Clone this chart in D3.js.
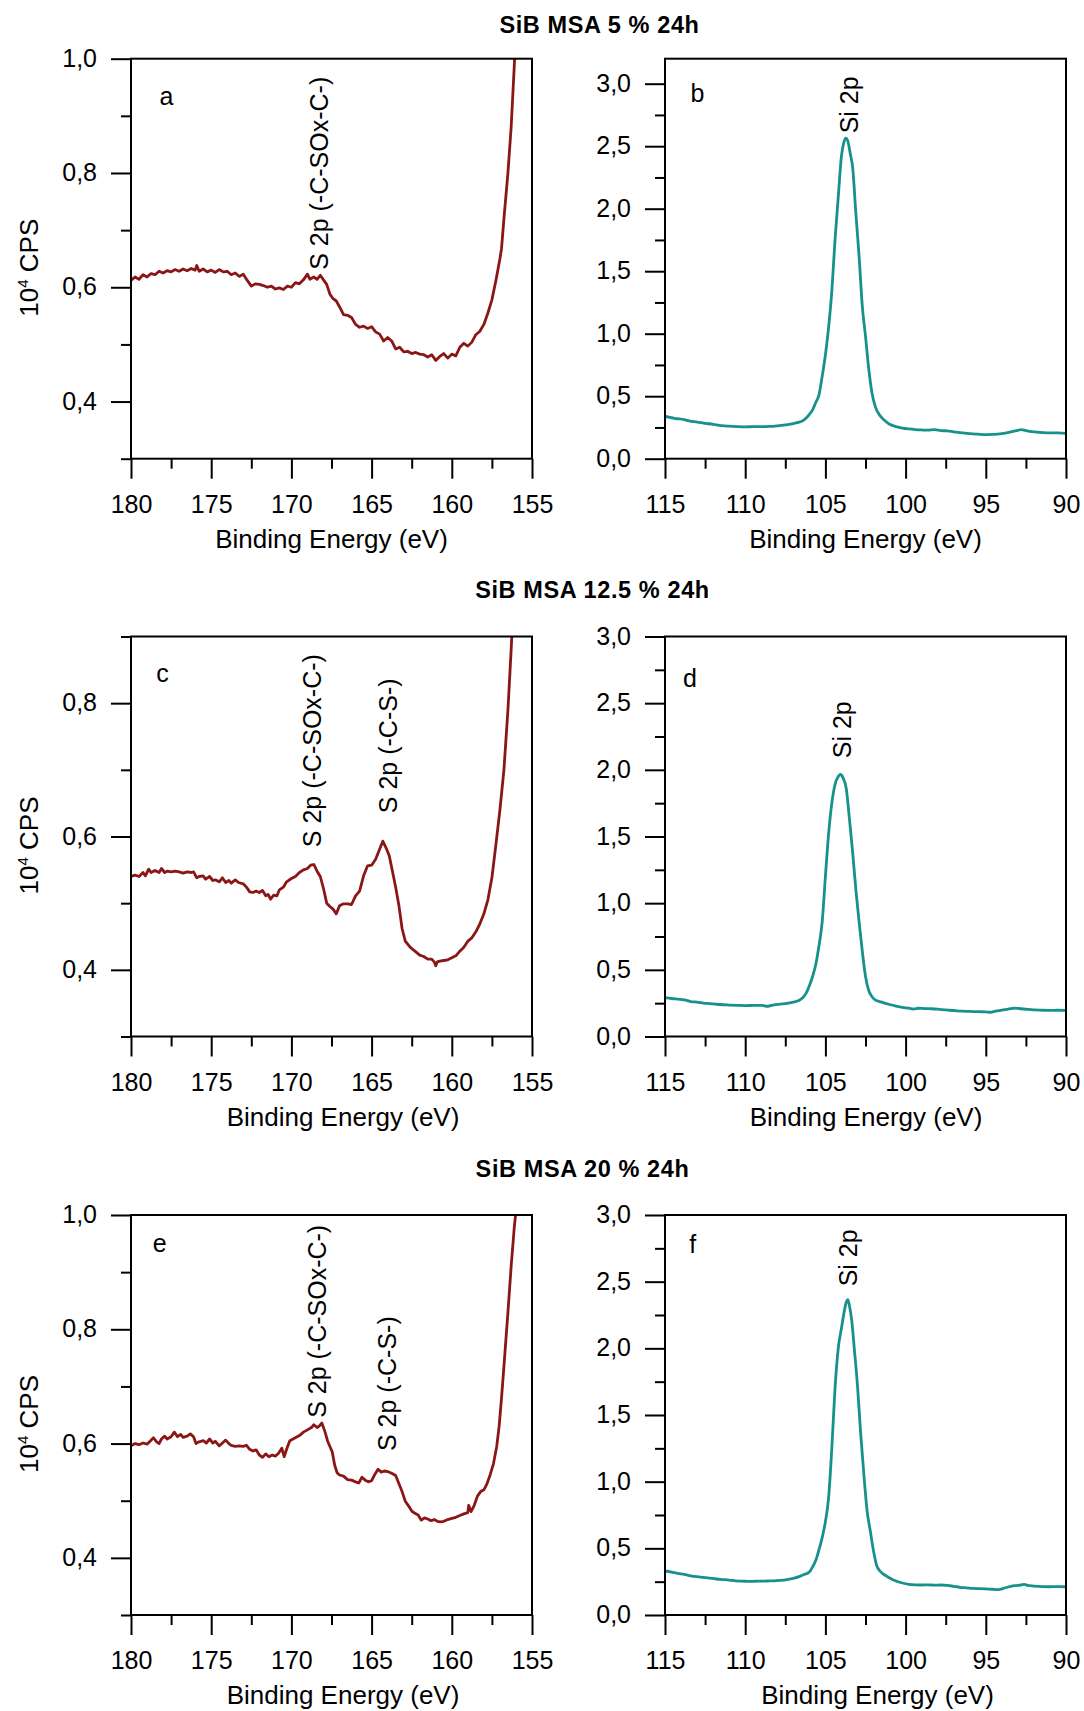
<!DOCTYPE html>
<html>
<head>
<meta charset="utf-8">
<script src="https://cdn.jsdelivr.net/npm/d3@7"></script>
<style>
  body { margin: 0; background: #fff; }
  svg { display: block; font-family: "Liberation Sans", Arial, Helvetica, sans-serif; }
</style>
</head>
<body>
<svg id="fig" width="1084" height="1711"></svg>
<script>
// ---------- XPS spectra: [binding energy (eV), intensity (10^4 CPS)] ----------

// S 2p region, MSA 5 %
const sulfur5 = [
  [180.0,0.612],[179.75,0.618],[179.5,0.614],[179.25,0.622],[179.0,0.618],[178.75,0.624],[178.5,0.622],
  [178.25,0.628],[178.0,0.625],[177.75,0.629],[177.5,0.627],[177.25,0.631],[177.0,0.628],[176.75,0.632],
  [176.5,0.629],[176.25,0.633],[176.0,0.630],[175.9,0.638],[175.75,0.628],[175.5,0.632],[175.25,0.627],
  [175.0,0.630],[174.75,0.626],[174.5,0.631],[174.25,0.627],[174.0,0.628],[173.75,0.622],[173.5,0.625],
  [173.25,0.619],[173.0,0.623],[172.75,0.612],[172.5,0.602],[172.25,0.606],[172.0,0.605],[171.75,0.603],
  [171.5,0.600],[171.25,0.602],[171.0,0.597],[170.75,0.599],[170.5,0.596],[170.25,0.602],[170.0,0.600],
  [169.75,0.608],[169.5,0.606],[169.25,0.613],[169.0,0.623],[168.85,0.614],[168.6,0.618],[168.4,0.614],
  [168.2,0.621],[168.0,0.613],[167.8,0.605],[167.6,0.588],[167.4,0.580],[167.2,0.576],[167.0,0.566],
  [166.75,0.552],[166.5,0.551],[166.25,0.547],[166.0,0.535],[165.75,0.530],[165.5,0.532],[165.25,0.528],
  [165.0,0.531],[164.75,0.522],[164.5,0.518],[164.25,0.506],[164.0,0.512],[163.75,0.506],[163.5,0.492],
  [163.25,0.495],[163.0,0.487],[162.75,0.488],[162.5,0.484],[162.25,0.486],[162.0,0.483],[161.75,0.482],
  [161.5,0.478],[161.25,0.482],[161.0,0.472],[160.75,0.479],[160.5,0.484],[160.25,0.476],[160.0,0.483],
  [159.75,0.480],[159.5,0.495],[159.25,0.502],[159.0,0.497],[158.75,0.504],[158.5,0.517],[158.25,0.523],
  [158.0,0.535],[157.75,0.555],[157.5,0.578],[157.25,0.612],[157.0,0.650],[156.9,0.668],[156.75,0.720],
  [156.5,0.800],[156.3,0.880],[156.1,0.990],[156.0,1.050]
];

// Si 2p region, MSA 5 %
const silicon5 = [
  [115.0,0.340],[114.7,0.330],[114.4,0.322],[114.1,0.318],[113.8,0.312],[113.5,0.303],[113.2,0.296],
  [112.9,0.290],[112.5,0.283],[112.0,0.275],[111.5,0.265],[111.0,0.260],[110.5,0.257],[110.0,0.255],
  [109.5,0.256],[109.0,0.256],[108.5,0.258],[108.0,0.263],[107.5,0.270],[107.0,0.280],[106.7,0.290],
  [106.4,0.305],[106.2,0.325],[106.0,0.355],[105.8,0.390],[105.6,0.450],[105.4,0.510],[105.2,0.660],
  [105.0,0.830],[104.8,1.050],[104.6,1.340],[104.4,1.750],[104.2,2.090],[104.0,2.420],[103.85,2.530],
  [103.72,2.565],[103.6,2.540],[103.45,2.440],[103.3,2.330],[103.1,1.960],[102.9,1.620],[102.7,1.220],
  [102.5,0.980],[102.3,0.720],[102.1,0.530],[101.9,0.420],[101.6,0.345],[101.3,0.305],[101.0,0.275],
  [100.6,0.257],[100.2,0.245],[99.8,0.238],[99.4,0.233],[99.0,0.230],[98.6,0.228],[98.2,0.232],
  [97.8,0.225],[97.4,0.222],[97.0,0.215],[96.5,0.207],[96.0,0.200],[95.5,0.196],[95.0,0.193],
  [94.5,0.194],[94.0,0.200],[93.5,0.212],[93.0,0.227],[92.8,0.233],[92.5,0.224],[92.0,0.214],
  [91.5,0.209],[91.0,0.206],[90.5,0.207],[90.0,0.203]
];

// S 2p region, MSA 12.5 %
const sulfur125 = [
  [180.0,0.540],[179.75,0.542],[179.5,0.540],[179.25,0.546],[179.1,0.541],[178.9,0.551],[178.75,0.546],
  [178.5,0.549],[178.25,0.546],[178.1,0.552],[177.9,0.546],[177.75,0.548],[177.5,0.547],[177.25,0.548],
  [177.0,0.547],[176.75,0.545],[176.5,0.547],[176.25,0.546],[176.1,0.547],[175.9,0.538],[175.75,0.540],
  [175.5,0.541],[175.35,0.536],[175.1,0.540],[174.9,0.534],[174.75,0.535],[174.5,0.532],[174.3,0.538],
  [174.1,0.531],[173.9,0.534],[173.75,0.530],[173.5,0.535],[173.3,0.531],[173.0,0.529],[172.8,0.524],
  [172.6,0.517],[172.4,0.516],[172.2,0.518],[172.0,0.516],[171.8,0.519],[171.6,0.511],[171.45,0.513],
  [171.3,0.506],[171.1,0.512],[170.9,0.511],[170.75,0.520],[170.5,0.524],[170.3,0.532],[170.0,0.537],
  [169.75,0.540],[169.5,0.546],[169.25,0.550],[169.0,0.552],[168.8,0.557],[168.6,0.558],[168.4,0.548],
  [168.2,0.540],[168.0,0.522],[167.8,0.500],[167.6,0.495],[167.4,0.491],[167.2,0.484],[167.0,0.496],
  [166.75,0.499],[166.5,0.499],[166.25,0.498],[166.0,0.511],[165.75,0.518],[165.5,0.541],[165.25,0.556],
  [165.0,0.557],[164.75,0.566],[164.5,0.581],[164.3,0.593],[164.1,0.583],[163.9,0.571],[163.7,0.548],
  [163.5,0.524],[163.3,0.497],[163.1,0.462],[162.9,0.443],[162.6,0.434],[162.3,0.428],[162.0,0.422],
  [161.75,0.420],[161.5,0.416],[161.25,0.416],[161.1,0.412],[161.0,0.406],[160.9,0.412],[160.75,0.413],
  [160.5,0.414],[160.25,0.415],[160.0,0.418],[159.75,0.421],[159.5,0.428],[159.25,0.434],[159.0,0.443],
  [158.75,0.448],[158.5,0.457],[158.25,0.469],[158.0,0.484],[157.75,0.505],[157.5,0.538],[157.25,0.588],
  [157.0,0.640],[156.75,0.700],[156.5,0.790],[156.3,0.880],[156.2,0.930]
];

// Si 2p region, MSA 12.5 %
const silicon125 = [
  [115.0,0.291],[114.6,0.285],[114.2,0.280],[113.8,0.275],[113.4,0.262],[113.0,0.258],[112.6,0.250],
  [112.2,0.247],[111.8,0.242],[111.4,0.238],[111.0,0.236],[110.5,0.234],[110.0,0.232],[109.5,0.233],
  [109.0,0.234],[108.6,0.227],[108.2,0.238],[107.8,0.243],[107.4,0.248],[107.0,0.258],[106.7,0.268],
  [106.4,0.292],[106.2,0.325],[106.0,0.380],[105.8,0.450],[105.6,0.540],[105.4,0.680],[105.2,0.860],
  [105.0,1.200],[104.8,1.520],[104.6,1.750],[104.4,1.890],[104.2,1.950],[104.07,1.965],[103.9,1.940],
  [103.7,1.860],[103.5,1.630],[103.3,1.380],[103.1,1.100],[102.9,0.860],[102.7,0.640],[102.5,0.450],
  [102.3,0.345],[102.1,0.300],[101.9,0.275],[101.5,0.258],[101.0,0.240],[100.6,0.228],[100.2,0.218],
  [99.8,0.212],[99.5,0.206],[99.2,0.212],[98.8,0.209],[98.4,0.208],[98.0,0.205],[97.5,0.199],
  [97.0,0.195],[96.5,0.190],[96.0,0.188],[95.5,0.186],[95.0,0.185],[94.7,0.182],[94.4,0.190],
  [94.0,0.198],[93.6,0.205],[93.2,0.213],[92.8,0.208],[92.4,0.203],[92.0,0.199],[91.5,0.197],
  [91.0,0.196],[90.5,0.197],[90.0,0.196]
];

// S 2p region, MSA 20 %
const sulfur20 = [
  [180.0,0.596],[179.75,0.600],[179.5,0.598],[179.25,0.601],[179.0,0.599],[178.75,0.606],[178.6,0.610],
  [178.4,0.603],[178.25,0.600],[178.1,0.608],[177.9,0.613],[177.75,0.608],[177.5,0.612],[177.3,0.620],
  [177.1,0.612],[176.9,0.616],[176.75,0.611],[176.5,0.613],[176.3,0.617],[176.1,0.612],[175.95,0.600],
  [175.75,0.603],[175.5,0.605],[175.3,0.601],[175.1,0.608],[174.9,0.601],[174.75,0.604],[174.5,0.596],
  [174.3,0.601],[174.1,0.606],[173.9,0.600],[173.75,0.597],[173.5,0.595],[173.25,0.596],[173.0,0.595],
  [172.8,0.597],[172.6,0.590],[172.4,0.587],[172.2,0.589],[172.0,0.580],[171.8,0.576],[171.6,0.582],
  [171.4,0.577],[171.2,0.580],[171.0,0.578],[170.8,0.583],[170.6,0.592],[170.45,0.577],[170.3,0.590],
  [170.1,0.605],[169.9,0.608],[169.7,0.611],[169.5,0.614],[169.25,0.620],[169.0,0.624],[168.75,0.628],
  [168.6,0.633],[168.4,0.628],[168.25,0.631],[168.1,0.636],[167.9,0.620],[167.75,0.605],[167.6,0.595],
  [167.45,0.585],[167.3,0.562],[167.15,0.549],[167.0,0.545],[166.75,0.543],[166.5,0.537],[166.25,0.536],
  [166.0,0.533],[165.8,0.531],[165.6,0.541],[165.4,0.536],[165.2,0.533],[165.0,0.535],[164.8,0.546],
  [164.6,0.555],[164.4,0.550],[164.2,0.552],[164.0,0.551],[163.75,0.548],[163.5,0.544],[163.3,0.530],
  [163.1,0.516],[162.9,0.499],[162.7,0.491],[162.5,0.482],[162.3,0.478],[162.1,0.475],[161.9,0.466],
  [161.7,0.470],[161.5,0.468],[161.3,0.465],[161.1,0.467],[160.9,0.464],[160.7,0.463],[160.5,0.464],
  [160.25,0.467],[160.0,0.469],[159.75,0.471],[159.5,0.474],[159.25,0.477],[159.0,0.479],[158.95,0.492],
  [158.8,0.481],[158.6,0.492],[158.4,0.508],[158.2,0.516],[158.0,0.519],[157.8,0.530],[157.6,0.546],
  [157.4,0.565],[157.2,0.595],[157.05,0.630],[156.9,0.680],[156.75,0.735],[156.5,0.830],[156.3,0.910],
  [156.1,0.980],[155.95,1.020]
];

// Si 2p region, MSA 20 %
const silicon20 = [
  [115.0,0.330],[114.6,0.322],[114.2,0.312],[113.8,0.305],[113.4,0.294],[113.0,0.287],[112.6,0.282],
  [112.2,0.276],[111.8,0.270],[111.4,0.266],[111.0,0.262],[110.6,0.256],[110.2,0.254],[109.8,0.252],
  [109.4,0.253],[109.0,0.254],[108.6,0.255],[108.2,0.256],[107.8,0.260],[107.4,0.266],[107.0,0.275],
  [106.6,0.290],[106.3,0.305],[106.0,0.322],[105.8,0.360],[105.6,0.410],[105.4,0.490],[105.2,0.580],
  [105.0,0.700],[104.8,0.880],[104.6,1.250],[104.4,1.700],[104.2,2.000],[104.0,2.150],[103.85,2.260],
  [103.7,2.345],[103.6,2.365],[103.5,2.320],[103.35,2.200],[103.2,2.000],[103.0,1.720],[102.8,1.360],
  [102.6,1.050],[102.4,0.780],[102.2,0.630],[102.0,0.480],[101.8,0.370],[101.6,0.330],[101.3,0.300],
  [101.0,0.278],[100.6,0.255],[100.2,0.240],[99.8,0.230],[99.4,0.226],[99.0,0.225],[98.6,0.226],
  [98.2,0.224],[97.8,0.225],[97.4,0.222],[97.0,0.215],[96.6,0.208],[96.2,0.204],[95.8,0.199],
  [95.4,0.198],[95.0,0.196],[94.6,0.193],[94.2,0.191],[93.9,0.200],[93.6,0.210],[93.2,0.220],
  [92.8,0.225],[92.6,0.230],[92.4,0.222],[92.0,0.217],[91.5,0.213],[91.0,0.212],[90.5,0.213],[90.0,0.212]
];

// ---------- axis ticks ----------
const sEnergyTicks  = [180, 175, 170, 165, 160, 155];
const sEnergyMinor  = [177.5, 172.5, 167.5, 162.5, 157.5];
const siEnergyTicks = [115, 110, 105, 100, 95, 90];
const siEnergyMinor = [112.5, 107.5, 102.5, 97.5, 92.5];
const sCpsTicksWide   = [0.4, 0.6, 0.8, 1.0];
const sCpsTicksNarrow = [0.4, 0.6, 0.8];
const sCpsMinor       = [0.3, 0.5, 0.7, 0.9];
const siCpsTicks = [0, 0.5, 1.0, 1.5, 2.0, 2.5, 3.0];
const siCpsMinor = [0.25, 0.75, 1.25, 1.75, 2.25, 2.75];

// ---------- text ----------
const rowTitles = ["SiB MSA 5 % 24h", "SiB MSA 12.5 % 24h", "SiB MSA 20 % 24h"];
const panelLetters = ["a", "b", "c", "d", "e", "f"];
const xTitle = "Binding Energy (eV)";
// peak labels: [text, energy at label baseline, intensity at label start]
const notesA = [["S 2p (-C-SOx-C-)", 167.71, 0.6305]];
const notesB = [["Si 2p", 102.94, 2.603]];
const notesC = [["S 2p (-C-SOx-C-)", 168.18, 0.584], ["S 2p (-C-S-)", 163.39, 0.635]];
const notesD = [["Si 2p", 103.4, 2.087]];
const notesE = [["S 2p (-C-SOx-C-)", 167.82, 0.645], ["S 2p (-C-S-)", 163.47, 0.587]];
const notesF = [["Si 2p", 103.0, 2.465]];

// ---------- layout / style ----------
const sulfurColor = "#8b1616";
const siliconColor = "#16918b";
const rowTop = [58.7, 636.5, 1215];
const colLeft = [131, 665];
const plotW = 401, plotH = 400;
const FONT = 25;
const TITLE_FONT = 26;

const panels = [
  { row: 0, col: 0, data: sulfur5,    xd: [180, 155], yd: [0.3, 1.0], xt: sEnergyTicks,  xm: sEnergyMinor,  yt: sCpsTicksWide,   ym: sCpsMinor,  color: sulfurColor,  notes: notesA, letterPos: [35.4, 46.3], xTitleX: 200.5, yTitle: true },
  { row: 0, col: 1, data: silicon5,   xd: [115, 90],  yd: [0, 3.2],   xt: siEnergyTicks, xm: siEnergyMinor, yt: siCpsTicks, ym: siCpsMinor, color: siliconColor, notes: notesB, letterPos: [32.5, 43], xTitleX: 200.5, yTitle: false },
  { row: 1, col: 0, data: sulfur125,  xd: [180, 155], yd: [0.3, 0.9], xt: sEnergyTicks,  xm: sEnergyMinor,  yt: sCpsTicksNarrow, ym: sCpsMinor,  color: sulfurColor,  notes: notesC, letterPos: [31.4, 45.8], xTitleX: 212, yTitle: true },
  { row: 1, col: 1, data: silicon125, xd: [115, 90],  yd: [0, 3.0],   xt: siEnergyTicks, xm: siEnergyMinor, yt: siCpsTicks, ym: siCpsMinor, color: siliconColor, notes: notesD, letterPos: [25, 50], xTitleX: 201, yTitle: false },
  { row: 2, col: 0, data: sulfur20,   xd: [180, 155], yd: [0.3, 1.0], xt: sEnergyTicks,  xm: sEnergyMinor,  yt: sCpsTicksWide,   ym: sCpsMinor,  color: sulfurColor,  notes: notesE, letterPos: [28.6, 36.5], xTitleX: 212, yTitle: true },
  { row: 2, col: 1, data: silicon20,  xd: [115, 90],  yd: [0, 3.0],   xt: siEnergyTicks, xm: siEnergyMinor, yt: siCpsTicks, ym: siCpsMinor, color: siliconColor, notes: notesF, letterPos: [27.7, 38.3], xTitleX: 212.5, yTitle: false }
];
const titleLayout = [[599.5, 33], [592.5, 598], [582.5, 1176.5]];

const commaFmt = d => d3.format(".1f")(d).replace(".", ",");
const svg = d3.select("#fig");

// row titles
rowTitles.forEach((t, i) => {
  svg.append("text")
    .attr("x", titleLayout[i][0]).attr("y", titleLayout[i][1])
    .attr("text-anchor", "middle")
    .attr("font-size", 23.5).attr("font-weight", "bold")
    .attr("letter-spacing", "0.6px")
    .attr("fill", "#000")
    .text(t);
});

panels.forEach((p, i) => {
  const g = svg.append("g")
    .attr("transform", `translate(${colLeft[p.col]},${rowTop[p.row]})`);
  const x = d3.scaleLinear().domain(p.xd).range([0, plotW]);
  const y = d3.scaleLinear().domain(p.yd).range([plotH, 0]);

  const clipId = "clip" + i;
  g.append("clipPath").attr("id", clipId)
    .append("rect").attr("width", plotW).attr("height", plotH);

  // spectrum
  const line = d3.line()
    .x(d => x(d[0])).y(d => y(d[1]))
    .curve(p.col === 1 ? d3.curveMonotoneX : d3.curveLinear);
  g.append("path")
    .datum(p.data)
    .attr("clip-path", `url(#${clipId})`)
    .attr("fill", "none")
    .attr("stroke", p.color)
    .attr("stroke-width", 2.8)
    .attr("stroke-linejoin", "round")
    .attr("d", line);

  // axes: major and minor ticks, outward
  const styleAxis = sel => {
    sel.select(".domain").remove();
    sel.selectAll(".tick line").attr("stroke", "#000").attr("stroke-width", 2);
    sel.selectAll(".tick text").attr("fill", "#000").attr("font-size", FONT)
      .attr("font-family", "'Liberation Sans', Arial, sans-serif");
  };

  const xAxis = g.append("g").attr("transform", `translate(0,${plotH})`)
    .call(d3.axisBottom(x).tickValues(p.xt).tickSize(20).tickSizeOuter(0).tickFormat(d3.format("d")));
  styleAxis(xAxis);
  xAxis.selectAll(".tick text").attr("y", 54).attr("dy", null);

  const xMinor = g.append("g").attr("transform", `translate(0,${plotH})`)
    .call(d3.axisBottom(x).tickValues(p.xm).tickSize(10).tickSizeOuter(0).tickFormat(""));
  styleAxis(xMinor);

  const yAxis = g.append("g")
    .call(d3.axisLeft(y).tickValues(p.yt).tickSize(20).tickPadding(14).tickSizeOuter(0).tickFormat(commaFmt));
  styleAxis(yAxis);
  yAxis.selectAll(".tick text").attr("dy", "0.3em");

  const yMinor = g.append("g")
    .call(d3.axisLeft(y).tickValues(p.ym).tickSize(10).tickSizeOuter(0).tickFormat(""));
  styleAxis(yMinor);

  // frame
  g.append("rect")
    .attr("width", plotW).attr("height", plotH)
    .attr("fill", "none").attr("stroke", "#000").attr("stroke-width", 2);

  // x-axis title
  g.append("text")
    .attr("x", p.xTitleX).attr("y", plotH + 89)
    .attr("text-anchor", "middle").attr("font-size", TITLE_FONT).attr("fill", "#000")
    .text(xTitle);

  // y-axis title with superscript exponent
  if (p.yTitle) {
    const yt = g.append("text")
      .attr("transform", `translate(${37.5 - colLeft[p.col]},${209}) rotate(-90)`)
      .attr("text-anchor", "middle").attr("font-size", TITLE_FONT).attr("fill", "#000");
    yt.append("tspan").text("10");
    yt.append("tspan").attr("font-size", 15).attr("dy", -10).text("4");
    yt.append("tspan").attr("dy", 10).text(" CPS");
  }

  // panel letter
  g.append("text")
    .attr("x", p.letterPos[0]).attr("y", p.letterPos[1])
    .attr("text-anchor", "middle").attr("font-size", FONT).attr("fill", "#000")
    .text(panelLetters[i]);

  // rotated peak labels
  p.notes.forEach(n => {
    g.append("text")
      .attr("transform", `translate(${x(n[1])},${y(n[2])}) rotate(-90)`)
      .attr("text-anchor", "start").attr("font-size", FONT).attr("fill", "#000")
      .text(n[0]);
  });
});
</script>
</body>
</html>
